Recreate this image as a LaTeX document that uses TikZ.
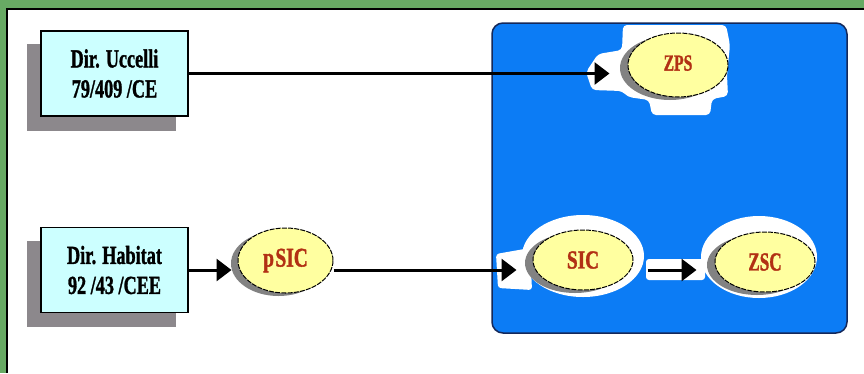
\documentclass[tikz,border=0pt]{standalone}
\usepackage{fontspec}
\setmainfont{Liberation Serif}[BoldFeatures={FakeBold=1.5}]
\usetikzlibrary{arrows.meta,shapes.geometric}
\definecolor{bggreen}{RGB}{104,170,100}
\definecolor{panelblue}{RGB}{12,124,245}
\definecolor{paneledge}{RGB}{20,40,90}
\definecolor{boxcyan}{RGB}{204,255,255}
\definecolor{shadowgray}{RGB}{140,136,140}
\definecolor{ellgray}{RGB}{130,130,130}
\definecolor{ellyellow}{RGB}{255,255,160}
\definecolor{txtred}{RGB}{178,48,20}
\pgfdeclarelayer{bg}
\pgfsetlayers{bg,main}
\tikzset{
  dirbox/.style={draw=black, line width=1.2pt, fill=boxcyan, minimum width=147pt, minimum height=85pt, inner sep=0pt, align=center, font=\fontsize{26}{30}\selectfont\bfseries},
  site/.style={ellipse, draw=black, line width=1pt, dash pattern=on 5pt off 1.2pt, fill=ellyellow, inner sep=0pt, text=txtred, font=\fontsize{26}{26}\selectfont\bfseries},
  arr/.style={line width=3pt, -{Triangle[length=15pt,width=22pt]}},
}
\newcommand{\cond}[1]{\scalebox{0.7}[1]{#1}}
\newcommand{\condb}[2]{\scalebox{#1}[1]{#2}}
\begin{document}
\begin{tikzpicture}[x=1pt,y=-1pt]
\useasboundingbox (0,0) rectangle (864,373);
% nodes
\node[dirbox] (u) at (114.5,73.5) {\cond{Dir. Uccelli}\\\cond{79/409 /CE}};
\node[dirbox] (h) at (114.5,270) {\cond{Dir. Habitat}\\\cond{92 /43 /CEE}};
\node[site, minimum width=100pt, minimum height=64pt, font=\fontsize{23}{23}\selectfont\bfseries] (zps) at (678,65) {\raisebox{4pt}{\condb{0.68}{ZPS}}};
\node[site, minimum width=95pt, minimum height=65pt, font=\fontsize{27}{27}\selectfont\bfseries] (psic) at (285.5,260.5) {\condb{0.72}{p\kern2pt SIC}};
\node[site, minimum width=100pt, minimum height=60pt] (sic) at (583,260) {\condb{0.74}{SIC}};
\node[site, minimum width=100pt, minimum height=60pt] (zsc) at (765,262) {\condb{0.66}{ZSC}};
% background layer
\begin{pgfonlayer}{bg}
\fill[bggreen] (0,0) rectangle (864,373);
\fill[white] (7,9) rectangle (864,373);
\draw[black, line width=1.5pt] (7,373) -- (7,9) -- (864,9);
\draw[fill=panelblue, draw=paneledge, line width=1.5pt, rounded corners=11pt] (492,23) rectangle (847,333);
% white blobs
\fill[white, rounded corners=4pt] (623,25) -- (726,25) -- (730,45) -- (727,75) -- (728,96) -- (712,99) -- (710,115) -- (652,115) -- (649,100) -- (628,97) -- (622,91) -- (592,90) -- (586,72) -- (598,54) -- (622,50) -- cycle;
\fill[white] (583,256) ellipse (61pt and 41pt);
\fill[white, rounded corners=3pt] (496,254) -- (530,248) -- (532,290) -- (498,288) -- cycle;
\fill[white, rounded corners=3pt] (646,259) rectangle (705,280);
\fill[white] (759,257) ellipse (58pt and 41pt);
% shadows
\fill[shadowgray] ([shift={(-13,14)}]u.south west) rectangle ([shift={(-13,14)}]u.north east);
\fill[shadowgray] ([shift={(-13,14)}]h.south west) rectangle ([shift={(-13,14)}]h.north east);
\fill[ellgray] ([shift={(-8,3)}]zps.center) ellipse (50pt and 32pt);
\fill[ellgray] ([shift={(-7,3)}]psic.center) ellipse (47.5pt and 32.5pt);
\fill[ellgray] ([shift={(-8,3)}]sic.center) ellipse (50pt and 30pt);
\fill[ellgray] ([shift={(-8,3)}]zsc.center) ellipse (50pt and 30pt);
\end{pgfonlayer}
% connectors
\draw[arr, shorten >=18pt] (u.east) -- (u.east -| zps.west);
\draw[arr, shorten >=6pt] (h.east) -- (h.east -| psic.west);
\draw[arr, shorten >=16pt] (h.east -| psic.east) -- (h.east -| sic.west);
\draw[arr, shorten <=14pt, shorten >=18pt] (h.east -| sic.east) -- (h.east -| zsc.west);
\end{tikzpicture}
\end{document}
